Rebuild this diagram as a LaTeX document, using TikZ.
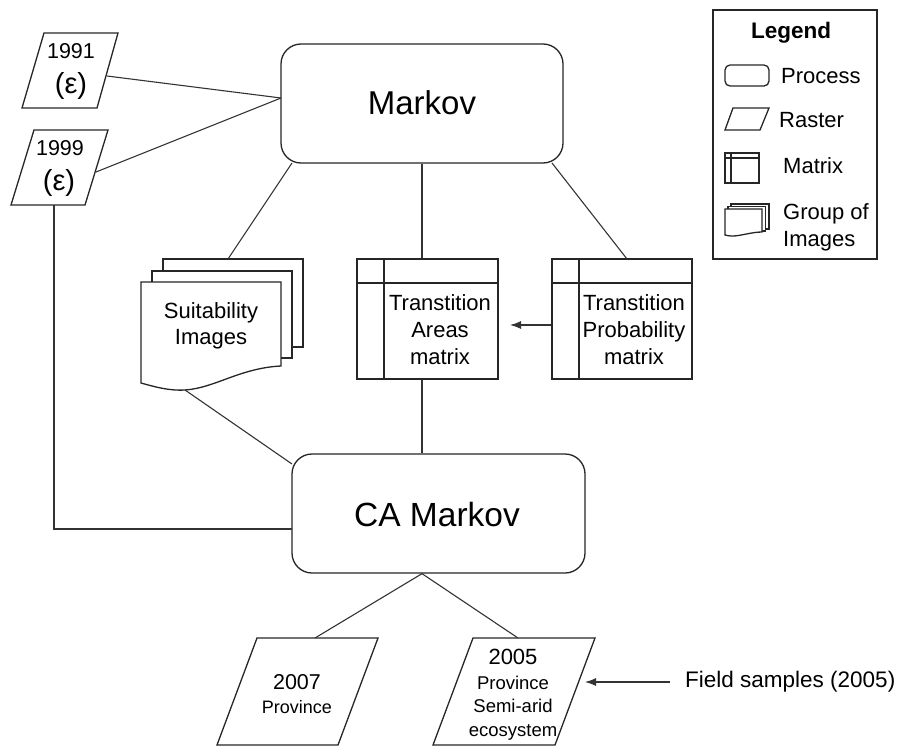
\documentclass[tikz,border=0pt]{standalone}
\usepackage{fontspec}
\setmainfont{Liberation Sans}
\usetikzlibrary{arrows.meta}
\newcommand{\fsz}[2]{\fontsize{#1}{#2}\selectfont}
\begin{document}
\begin{tikzpicture}[x=1pt,y=-1pt,
  shp/.style={draw=black!85, line width=1.3pt},
  conn/.style={draw=black!80, line width=1.1pt},
  procbox/.style={shp, rounded corners=20pt, inner sep=0pt, fill=white},
  matbox/.style={shp, inner sep=0pt, fill=white},
  lbl/.style={inner sep=0pt, align=center, text=black},
  arr/.style={conn, -{Latex[length=11pt,width=8pt]}}
]
\useasboundingbox (0,0) rectangle (897,747);

% ---------- processes ----------
\node[procbox, minimum width=282pt, minimum height=119pt] (markov) at (422,103.5) {};
\node[lbl, font=\fsz{33}{38}] (markovt) at (422,103) {Markov};
\node[procbox, minimum width=293pt, minimum height=119pt] (ca) at (438.5,513.5) {};
\node[lbl, font=\fsz{33.5}{38}] (cat) at (437,515) {CA Markov};

% ---------- rasters 1991 / 1999 ----------
\draw[shp] (44,33) -- (118,33) -- (97,108) -- (22,108) -- cycle;
\node[lbl, font=\fsz{21.5}{24}] (r91a) at (71,51) {1991};
\node[lbl, font=\fsz{29}{30}] (r91b) at (71,86) {(ε)};
\draw[shp] (34,130) -- (108,130) -- (85,205) -- (11,205) -- cycle;
\node[lbl, font=\fsz{21.5}{24}] (r99a) at (60,148) {1999};
\node[lbl, font=\fsz{29}{30}] (r99b) at (59,183) {(ε)};
\coordinate (r91R) at (107,76);
\coordinate (r99R) at (96,172);
\coordinate (r99B) at (54,205);
\coordinate (mkL) at (281,98);

% ---------- suitability images ----------
\draw[shp, fill=white] (163,259) rectangle (303,347);
\draw[shp, fill=white] (152,271) rectangle (292,358);
\draw[shp, fill=white] (141,282) -- (281,282) -- (281,366)
   .. controls (240,368) and (215,388) .. (185,390)
   .. controls (168,391) and (152,386) .. (141,383) -- cycle;
\node[lbl, font=\fsz{22}{26}] (suit) at (211,326) {Suitability\\Images};
\coordinate (suitT) at (228,259);
\coordinate (suitB) at (185,390);

% ---------- matrices ----------
\node[matbox, minimum width=141pt, minimum height=120pt] (areas) at (427.5,319) {};
\draw[shp] (384,259) -- (384,379);
\draw[shp] (357,283) -- (498,283);
\node[lbl, font=\fsz{22}{27}] (areast) at (440,330) {Transtition\\Areas\\matrix};

\node[matbox, minimum width=140pt, minimum height=120pt] (prob) at (622,319) {};
\draw[shp] (579,259) -- (579,379);
\draw[shp] (552,283) -- (692,283);
\node[lbl, font=\fsz{22}{27}] (probt) at (634,330) {Transtition\\Probability\\matrix};

% ---------- output rasters ----------
\draw[shp] (257,638) -- (378,638) -- (338,745) -- (217,745) -- cycle;
\node[lbl, font=\fsz{21.5}{24}] (o07a) at (297,682) {2007};
\node[lbl, font=\fsz{18}{22}] (o07b) at (297,707) {Province};
\draw[shp] (473,638) -- (595,638) -- (555,745) -- (433,745) -- cycle;
\node[lbl, font=\fsz{22}{24}] (o05a) at (513,657) {2005};
\node[lbl, font=\fsz{18.5}{23.5}] (o05b) at (513,708) {Province\\Semi-arid\\ecosystem};
\coordinate (o07T) at (315,638);
\coordinate (o05T) at (518,638);
\coordinate (o05R) at (585,682);

\node[lbl, font=\fsz{22.5}{24}, anchor=west] (field) at (685,682) {Field samples (2005)};

% ---------- connectors ----------
\coordinate (mkBL) at (292,163);
\coordinate (mkBR) at (552,163);
\coordinate (probT) at (627,259);
\coordinate (caL) at (292,529);
\coordinate (caSuit) at (292,464);
\draw[conn] (r91R) -- (mkL);
\draw[conn] (r99R) -- (mkL);
\draw[conn] (r99B) |- (caL);
\draw[conn] (mkBL) -- (suitT);
\draw[conn] (markov.south) -- (areas.north -| markov.south);
\draw[conn] (mkBR) -- (probT);
\draw[conn] (areas.south -| markov.south) -- (ca.north -| markov.south);
\draw[conn] (suitB) -- (caSuit);
\draw[conn] (ca.south -| markov.south) -- (o07T);
\draw[conn] (ca.south -| markov.south) -- (o05T);
\draw[arr] (prob.west |- 0,325) -- (510,325);
\draw[arr] (field.west) ++(-15,0) -- (o05R);

% ---------- legend ----------
\node[shp, inner sep=0pt, minimum width=164pt, minimum height=249pt] (legend) at (795,134.5) {};
\node[lbl, font=\bfseries\fsz{22.5}{26}] (legt) at (791,33) {Legend};
\draw[shp, rounded corners=5pt] (725,65) rectangle (769,86);
\node[lbl, font=\fsz{22}{26}, anchor=west] (lproc) at (781,76) {Process};
\draw[shp] (733,108) -- (769,108) -- (760,130) -- (725,130) -- cycle;
\node[lbl, font=\fsz{22}{26}, anchor=west] (lras) at (779,120) {Raster};
\draw[shp] (725,153) rectangle (759,183);
\draw[shp] (731,153) -- (731,183);
\draw[shp] (725,158) -- (759,158);
\node[lbl, font=\fsz{22}{26}, anchor=west] (lmat) at (783,166) {Matrix};
\draw[shp, fill=white] (731,204) rectangle (769,229);
\draw[shp, fill=white] (728,206.5) rectangle (765.5,231);
\draw[shp, fill=white] (725,209) -- (762,209) -- (762,232)
   .. controls (752,232) and (740,236) .. (733,236)
   .. controls (729,236) and (727,235.5) .. (725,235) -- cycle;
\node[lbl, font=\fsz{22}{27}, anchor=west, align=left] (lgrp) at (783,227) {Group of\\Images};
\end{tikzpicture}
\end{document}
